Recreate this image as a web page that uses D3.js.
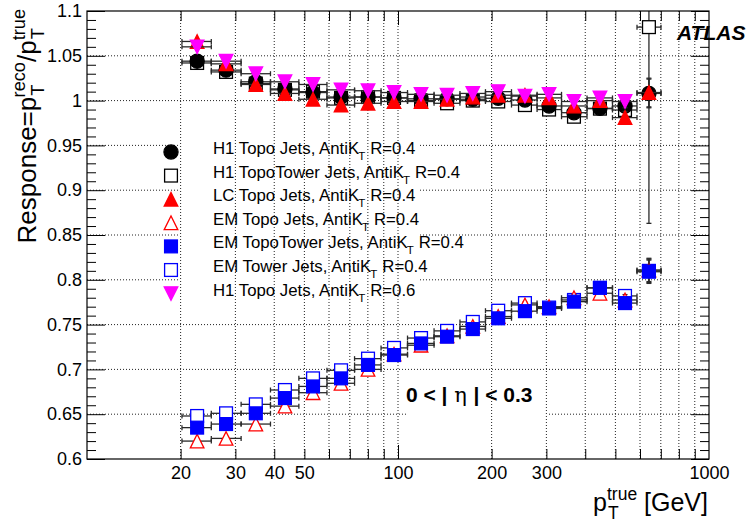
<!DOCTYPE html>
<html>
<head>
<meta charset="utf-8">
<script src="https://cdn.jsdelivr.net/npm/d3@7"></script>
<style>
  body { margin: 0; background: #fff; }
  svg { font-family: "Liberation Sans", Arial, sans-serif; }
</style>
</head>
<body>
<div id="chart"></div>
<script>
// bins in pT^true [GeV]
const binEdges   = [20.2, 25.1, 31.3, 38.9, 48.0, 59.1, 72.5, 88.2, 107.3, 130.6, 158.2, 191.1, 231.7, 280, 335.6, 405.3, 489.4, 586.8, 700.9];
const binCenters = [22.6, 28.0, 34.9, 43.3, 53.3, 65.6, 80.1, 97.1, 118.6, 143.8, 174, 210, 256, 306, 368, 446, 537, 641];

// response values per jet collection (null = no point)
const h1Topo04      = [1.044, 1.034, 1.021, 1.013, 1.009, 1.004, 1.004, 1.003, 1.002, 1.002, 1.0015, 1.0026, 1.0007, 0.994, 0.9865, 0.9914, 0.994, 1.008];
const h1TopoTower04 = [1.042, 1.032, 1.019, 1.012, 1.010, 1.003, 1.004, 1.003, 1.000, 0.997, 1.000, 0.999, 0.995, 0.990, 0.982, 0.991, 0.9895, 1.082];
const lcTopo04      = [1.066, 1.041, 1.018, 1.008, 1.0015, 0.995, 0.997, 0.999, 0.999, 1.0015, 1.004, 1.006, 1.006, 1.003, 0.994, 1.000, 0.981, 1.009];
const emTopo04      = [0.620, 0.623, 0.639, 0.659, 0.674, 0.6845, 0.700, 0.717, 0.727, 0.7375, 0.748, 0.759, 0.772, 0.770, 0.780, 0.785, 0.7775, 0.811];
const emTopoTower04 = [0.635, 0.639, 0.651, 0.668, 0.681, 0.690, 0.705, 0.716, 0.729, 0.7365, 0.745, 0.757, 0.765, 0.768, 0.7756, 0.791, 0.774, 0.809];
const emTower04     = [0.648, 0.651, 0.661, 0.677, 0.690, 0.699, 0.712, 0.724, 0.735, 0.743, 0.753, 0.7655, 0.774, 0.769, 0.7775, 0.791, 0.782, 0.810];
const h1Topo06      = [1.060, 1.044, 1.030, 1.021, 1.018, 1.012, 1.011, 1.009, 1.007, 1.006, 1.008, 1.010, 1.005, 1.007, 0.999, 1.003, 0.999, null];

// statistical errors on the response
const errH1Topo04      = [0.002, 0.002, 0.002, 0.002, 0.002, 0.002, 0.002, 0.002, 0.002, 0.002, 0.003, 0.003, 0.003, 0.003, 0.004, 0.004, 0.007, 0.016];
const errH1TopoTower04 = [0.002, 0.002, 0.002, 0.002, 0.002, 0.002, 0.002, 0.002, 0.002, 0.002, 0.003, 0.003, 0.003, 0.003, 0.004, 0.004, 0.007, 0.219];
const errLcTopo04      = [0.002, 0.002, 0.002, 0.002, 0.002, 0.002, 0.002, 0.002, 0.002, 0.002, 0.003, 0.003, 0.003, 0.003, 0.004, 0.004, 0.007, 0.016];
const errEmTopo04      = [0.002, 0.002, 0.002, 0.002, 0.002, 0.002, 0.002, 0.002, 0.002, 0.002, 0.003, 0.003, 0.003, 0.003, 0.004, 0.004, 0.006, 0.013];
const errEmTopoTower04 = [0.002, 0.002, 0.002, 0.002, 0.002, 0.002, 0.002, 0.002, 0.002, 0.002, 0.003, 0.003, 0.003, 0.003, 0.004, 0.004, 0.006, 0.013];
const errEmTower04     = [0.002, 0.002, 0.002, 0.002, 0.002, 0.002, 0.002, 0.002, 0.002, 0.002, 0.003, 0.003, 0.003, 0.003, 0.004, 0.004, 0.006, 0.013];
const errH1Topo06      = [0.002, 0.002, 0.002, 0.002, 0.002, 0.002, 0.002, 0.002, 0.002, 0.002, 0.003, 0.003, 0.003, 0.003, 0.004, 0.004, 0.007, null];

const xTickLabels = [20, 30, 40, 50, 100, 200, 300, 1000];
const xTicks = [20, 30, 40, 50, 60, 70, 80, 90, 100, 200, 300, 400, 500, 600, 700, 800, 900];
const yMajor = [0.6, 0.65, 0.7, 0.75, 0.8, 0.85, 0.9, 0.95, 1.0, 1.05, 1.1];
const yMinor = d3.range(60, 111).map(d => d / 100).filter(d => Math.round(d * 100) % 5 !== 0);

const W = 747, H = 525;
const L = 87, R = 709, T = 11, B = 459;

const x = d3.scaleLog().domain([10, 1000]).range([L, R]);
const y = d3.scaleLinear().domain([0.6, 1.1]).range([B, T]);

const svg = d3.select("#chart").append("svg").attr("width", W).attr("height", H);

svg.append("defs").append("clipPath").attr("id", "frame")
  .append("rect").attr("x", L).attr("y", T).attr("width", R - L).attr("height", B - T);

// horizontal grid (hidden behind the legend and label boxes)
svg.append("g").selectAll("line").data(yMajor.slice(1, -1)).join("line")
  .attr("x1", L).attr("x2", R)
  .attr("y1", d => y(d)).attr("y2", d => y(d))
  .attr("stroke", "#222").attr("stroke-dasharray", "1,2");

svg.append("rect").attr("x", 180).attr("y", 130).attr("width", 240).attr("height", 172).attr("fill", "#fff");
svg.append("rect").attr("x", 406).attr("y", 376).attr("width", 142).attr("height", 44).attr("fill", "#fff");

// vertical grid
svg.append("g").selectAll("line").data(xTicks).join("line")
  .attr("x1", d => x(d)).attr("x2", d => x(d))
  .attr("y1", T).attr("y2", B)
  .attr("stroke", "#222").attr("stroke-dasharray", "1,2");

// axes
const fmt = d => String(+d.toFixed(2));
function clean(g) { g.select(".domain").remove(); g.selectAll("line").attr("stroke", "#000"); }

svg.append("g").attr("transform", `translate(${L},0)`)
  .call(d3.axisLeft(y).tickValues(yMajor).tickSize(-18).tickPadding(5).tickFormat(fmt))
  .call(clean)
  .call(g => g.selectAll("text").attr("font-size", 18).attr("font-family", "Liberation Sans, Arial").attr("fill", "#000"));
svg.append("g").attr("transform", `translate(${L},0)`)
  .call(d3.axisLeft(y).tickValues(yMinor).tickSize(-9).tickFormat("")).call(clean);
svg.append("g").attr("transform", `translate(${R},0)`)
  .call(d3.axisRight(y).tickValues(yMajor).tickSize(-18).tickFormat("")).call(clean);
svg.append("g").attr("transform", `translate(${R},0)`)
  .call(d3.axisRight(y).tickValues(yMinor).tickSize(-9).tickFormat("")).call(clean);

svg.append("g").attr("transform", `translate(0,${B})`)
  .call(d3.axisBottom(x).tickValues(xTicks).tickSizeInner(-10).tickFormat("")).call(clean);
svg.append("g").attr("transform", `translate(0,${B})`)
  .call(d3.axisBottom(x).tickValues([100]).tickSizeInner(-14).tickFormat("")).call(clean);
svg.append("g").attr("transform", `translate(0,${T})`)
  .call(d3.axisTop(x).tickValues(xTicks).tickSizeInner(-10).tickFormat("")).call(clean);
svg.append("g").attr("transform", `translate(0,${T})`)
  .call(d3.axisTop(x).tickValues([100]).tickSizeInner(-14).tickFormat("")).call(clean);

svg.append("g").attr("transform", `translate(0,${B})`)
  .call(d3.axisBottom(x).tickValues(xTickLabels).tickSize(0).tickPadding(7).tickFormat(d3.format("d")))
  .call(clean)
  .call(g => g.selectAll("text").attr("font-size", 18).attr("font-family", "Liberation Sans, Arial").attr("fill", "#000"));

// markers
function marker(g, style, cx, cy) {
  const s = 6.8;
  if (style.shape === "circle") {
    g.append("circle").attr("cx", cx).attr("cy", cy).attr("r", s + 0.3)
      .attr("fill", style.fill).attr("stroke", style.stroke).attr("stroke-width", 1.2);
  } else if (style.shape === "square") {
    g.append("rect").attr("x", cx - s + 0.4).attr("y", cy - s + 0.4).attr("width", 2 * s - 0.8).attr("height", 2 * s - 0.8)
      .attr("fill", style.fill).attr("stroke", style.stroke).attr("stroke-width", 1.3);
  } else {
    const dir = style.shape === "triUp" ? 1 : -1;
    const p = d3.path();
    p.moveTo(cx - s, cy + dir * s);
    p.lineTo(cx + s, cy + dir * s);
    p.lineTo(cx, cy - dir * s);
    p.closePath();
    g.append("path").attr("d", p.toString())
      .attr("fill", style.fill).attr("stroke", style.stroke).attr("stroke-width", 1.3);
  }
}

const sH1Topo04      = { vals: h1Topo04, errs: errH1Topo04, shape: "circle", fill: "#000", stroke: "#000",
                         pre: "H1 Topo Jets, AntiK", post: "R=0.4" };
const sH1TopoTower04 = { vals: h1TopoTower04, errs: errH1TopoTower04, shape: "square", fill: "#fff", stroke: "#000",
                         pre: "H1 TopoTower Jets, AntiK", post: "R=0.4" };
const sLcTopo04      = { vals: lcTopo04, errs: errLcTopo04, shape: "triUp", fill: "#ff0000", stroke: "#ff0000",
                         pre: "LC Topo Jets, AntiK", post: "R=0.4" };
const sEmTopo04      = { vals: emTopo04, errs: errEmTopo04, shape: "triUp", fill: "#fff", stroke: "#ff0000",
                         pre: "EM Topo Jets, AntiK", post: "R=0.4" };
const sEmTopoTower04 = { vals: emTopoTower04, errs: errEmTopoTower04, shape: "square", fill: "#0000ff", stroke: "#0000ff",
                         pre: "EM TopoTower Jets, AntiK", post: "R=0.4" };
const sEmTower04     = { vals: emTower04, errs: errEmTower04, shape: "square", fill: "#fff", stroke: "#0000ff",
                         pre: "EM Tower Jets, AntiK", post: "R=0.4" };
const sH1Topo06      = { vals: h1Topo06, errs: errH1Topo06, shape: "triDown", fill: "#ff00ff", stroke: "#ff00ff",
                         pre: "H1 Topo Jets, AntiK", post: "R=0.6" };

const drawOrder = [sEmTower04, sEmTopo04, sEmTopoTower04, sH1TopoTower04, sH1Topo04, sLcTopo04, sH1Topo06];
const legendOrder = [sH1Topo04, sH1TopoTower04, sLcTopo04, sEmTopo04, sEmTopoTower04, sEmTower04, sH1Topo06];

const plot = svg.append("g").attr("clip-path", "url(#frame)");
const ebColor = "#2a2a2a", cap = 2.5;

drawOrder.forEach(s => {
  const g = plot.append("g");
  s.vals.forEach((v, i) => {
    if (v == null) return;
    const cx = x(binCenters[i]), cy = y(v);
    const x0 = x(binEdges[i]), x1 = x(binEdges[i + 1]);
    const ya = y(v + s.errs[i]), yb = y(v - s.errs[i]);
    const lines = [
      [x0, cy, x1, cy], [x0, cy - cap, x0, cy + cap], [x1, cy - cap, x1, cy + cap],
      [cx, ya, cx, yb], [cx - cap, ya, cx + cap, ya], [cx - cap, yb, cx + cap, yb]
    ];
    lines.forEach(l => g.append("line")
      .attr("x1", l[0]).attr("y1", l[1]).attr("x2", l[2]).attr("y2", l[3])
      .attr("stroke", ebColor).attr("stroke-width", 1.3));
    marker(g, s, cx, cy);
  });
});

// legend
const leg = svg.append("g");
legendOrder.forEach((s, i) => {
  const ly = 152 + i * 23.6;
  marker(leg, s, 171, ly);
  const t = leg.append("text").attr("x", 213).attr("y", ly + 2).attr("font-size", 16.8).attr("fill", "#000");
  t.append("tspan").text(s.pre);
  t.append("tspan").attr("font-size", 11.5).attr("dy", 6).attr("dx", -1).text("T");
  t.append("tspan").attr("dy", -6).attr("dx", 5).text(s.post);
});

// eta range label
const eta = svg.append("text").attr("x", 406).attr("y", 402)
  .attr("font-size", 21).attr("font-weight", "bold").attr("fill", "#000");
eta.append("tspan").text("0 < |");
eta.append("tspan").attr("font-weight", "normal").attr("font-family", "DejaVu Serif, serif").text(" η ");
eta.append("tspan").text("| < 0.3");

// ATLAS
svg.append("text").attr("x", 677).attr("y", 40)
  .attr("font-size", 21).attr("font-weight", "bold").attr("font-style", "italic").text("ATLAS");

// frame
svg.append("rect").attr("x", L).attr("y", T).attr("width", R - L).attr("height", B - T)
  .attr("fill", "none").attr("stroke", "#000").attr("stroke-width", 1.2);

// axis titles with stacked sub/superscripts
function scriptPair(t, sub, sup, big) {
  const small = big * 0.7;
  const ts = t.append("tspan").attr("font-size", small).attr("dy", big * 0.32).attr("dx", 1).text(sub);
  const w = ts.node().getComputedTextLength() + 1;
  t.append("tspan").attr("font-size", small).attr("dy", -big * 0.32 - big * 0.44).attr("dx", -w).text(sup);
  return big * 0.44;
}

const xt = svg.append("text").attr("x", 708).attr("y", 511).attr("text-anchor", "end")
  .attr("font-size", 25).attr("fill", "#000");
xt.append("tspan").text("p");
let up = scriptPair(xt, "T", "true", 25);
xt.append("tspan").attr("dy", up).text(" [GeV]");

const yt = svg.append("text").attr("transform", "translate(36,9) rotate(-90)")
  .attr("text-anchor", "end").attr("font-size", 26).attr("fill", "#000");
yt.append("tspan").text("Response=p");
up = scriptPair(yt, "T", "reco", 26);
yt.append("tspan").attr("dy", up).text("/p");
scriptPair(yt, "T", "true", 26);
</script>
</body>
</html>
